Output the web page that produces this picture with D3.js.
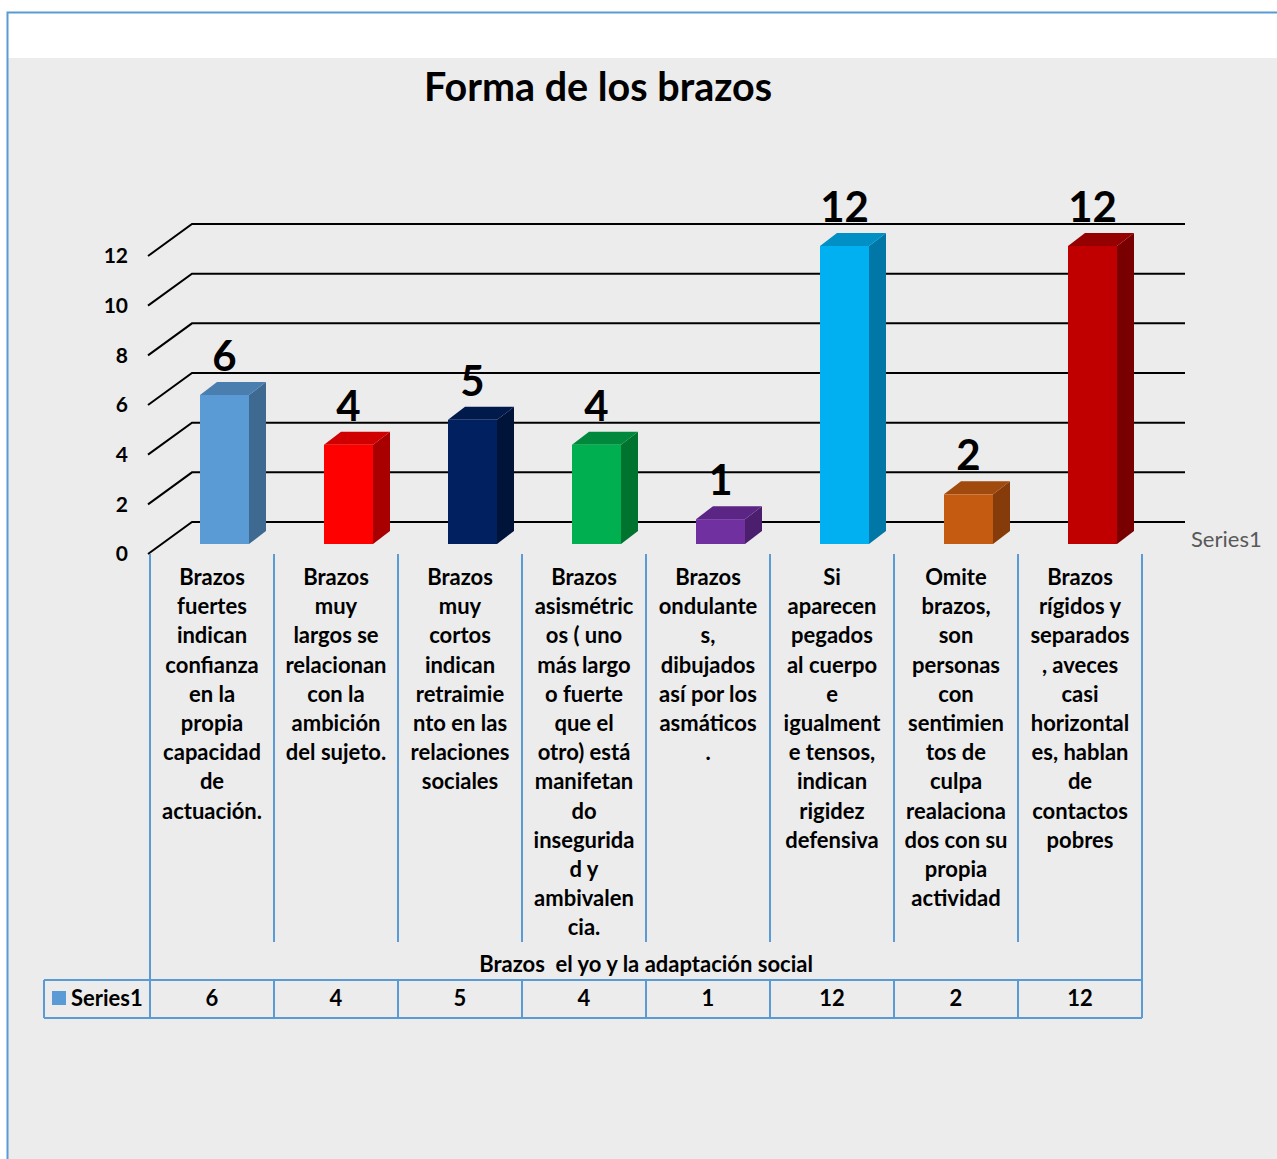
<!DOCTYPE html>
<html>
<head>
<meta charset="utf-8">
<script src="https://cdn.jsdelivr.net/npm/d3@7"></script>
<style>
  body { margin: 0; background: #fff; }
  text { font-family: Lato, "Open Sans", sans-serif; white-space: pre; }
</style>
</head>
<body>
<script>
const W = 1277, H = 1159

// chart data
const categories = ["c1", "c2", "c3", "c4", "c5", "c6", "c7", "c8"]
const values = [6, 4, 5, 4, 1, 12, 2, 12]
const categoryLines = [
  ["Brazos","fuertes","indican","confianza","en la","propia","capacidad","de","actuación."],
  ["Brazos","muy","largos se","relacionan","con la","ambición","del sujeto."],
  ["Brazos","muy","cortos","indican","retraimie","nto en las","relaciones","sociales"],
  ["Brazos","asismétric","os ( uno","más largo","o fuerte","que el","otro) está","manifetan","do","insegurida","d y","ambivalen","cia."],
  ["Brazos","ondulante","s,","dibujados","así por los","asmáticos","."],
  ["Si","aparecen","pegados","al cuerpo","e","igualment","e tensos,","indican","rigidez","defensiva"],
  ["Omite","brazos,","son","personas","con","sentimien","tos de","culpa","realaciona","dos con su","propia","actividad"],
  ["Brazos","rígidos y","separados",", aveces","casi","horizontal","es, hablan","de","contactos","pobres"]
]
const yTicks = [0, 2, 4, 6, 8, 10, 12]
const frontColors = ["#5b9bd5", "#ff0000", "#002060", "#00b050", "#7030a0", "#00b0f0", "#c55a11", "#c00000"]
const sideColors  = ["#3e6a92", "#a80000", "#001338", "#00732f", "#4b1f6d", "#0077a6", "#863c0a", "#780000"]
const topColors   = ["#4a7eae", "#d00000", "#001a4c", "#00893c", "#5a2584", "#0090c6", "#a04a0e", "#950000"]
const seriesName = "Series1"
const axisTitle = "Brazos  el yo y la adaptación social"
const chartTitle = "Forma de los brazos"

const svg = d3.select("body").append("svg")
  .attr("width", W)
  .attr("height", H)

// frame
svg.append("rect").attr("x", 0).attr("y", 0).attr("width", W).attr("height", H).attr("fill", "#fff")
svg.append("rect").attr("x", 8).attr("y", 58).attr("width", W - 8).attr("height", H - 58).attr("fill", "#ececec")
svg.append("path")
  .attr("d", `M7.5,${H} V12.5 H${W}`)
  .attr("fill", "none").attr("stroke", "#5b9bd5").attr("stroke-width", 2)

svg.append("text")
  .attr("x", 598).attr("y", 101)
  .attr("text-anchor", "middle")
  .attr("font-size", "39.5px").attr("font-weight", "bold")
  .attr("fill", "#000")
  .text(chartTitle)

// scales
const x = d3.scaleBand().domain(categories).range([150, 1142]).padding(0)
const y = d3.scaleLinear().domain([0, 12]).range([554, 256])
const depth = {dx: 44, dy: -32}
const wallRight = 1185

// gridlines: floor diagonal + back wall line
const grid = svg.append("g")
yTicks.forEach(t => {
  grid.append("path")
    .attr("d", `M148,${y(t)} L${148 + depth.dx},${y(t) + depth.dy} H${wallRight}`)
    .attr("fill", "none").attr("stroke", "#000").attr("stroke-width", 2)
})

// y tick labels
svg.append("g").selectAll("text").data(yTicks).join("text")
  .attr("x", 128).attr("y", d => y(d))
  .attr("dy", "0.35em")
  .attr("text-anchor", "end")
  .attr("font-size", "21px").attr("font-weight", "bold")
  .text(d => d)

// 3D bars
const barOff = {dx: 13.7, dy: -10}
const barW = 49, side = {dx: 17, dy: -13}
const bars = svg.append("g")
categories.forEach((c, i) => {
  const x0 = x(c) + 50
  const yb = y(0) + barOff.dy
  const yt = y(values[i]) + barOff.dy
  const g = bars.append("g")
  g.append("path")
    .attr("d", `M${x0 + barW},${yb} L${x0 + barW + side.dx},${yb + side.dy} V${yt + side.dy} L${x0 + barW},${yt} Z`)
    .attr("fill", sideColors[i])
  g.append("path")
    .attr("d", `M${x0},${yt} L${x0 + side.dx},${yt + side.dy} H${x0 + barW + side.dx} L${x0 + barW},${yt} Z`)
    .attr("fill", topColors[i])
  g.append("rect")
    .attr("x", x0).attr("y", yt)
    .attr("width", barW).attr("height", yb - yt)
    .attr("fill", frontColors[i])
  g.append("text")
    .attr("x", x0 + barW / 2).attr("y", yt + side.dy - 11)
    .attr("text-anchor", "middle")
    .attr("font-size", "42px").attr("font-weight", "bold")
    .text(values[i])
})

svg.append("text")
  .attr("x", 1191).attr("y", 547)
  .attr("font-size", "22px").attr("fill", "#595959")
  .text(seriesName)

// category labels and data table
const blue = "#5b9bd5"
const table = svg.append("g")
categories.forEach((c, i) => {
  if (i > 0) {
    table.append("line")
      .attr("x1", x(c)).attr("x2", x(c)).attr("y1", 554).attr("y2", 942)
      .attr("stroke", blue).attr("stroke-width", 2)
  }
  table.append("text")
    .attr("x", x(c) + x.bandwidth() / 2).attr("y", 585)
    .attr("text-anchor", "middle")
    .attr("font-size", "22px").attr("font-weight", "bold")
    .selectAll("tspan").data(categoryLines[i]).join("tspan")
      .attr("x", x(c) + x.bandwidth() / 2)
      .attr("dy", (d, j) => j === 0 ? 0 : 29.2)
      .text(d => d)
  table.append("line")
    .attr("x1", x(c)).attr("x2", x(c)).attr("y1", 980).attr("y2", 1018)
    .attr("stroke", blue).attr("stroke-width", 2)
  table.append("text")
    .attr("x", x(c) + x.bandwidth() / 2).attr("y", 1006)
    .attr("text-anchor", "middle")
    .attr("font-size", "22px").attr("font-weight", "bold")
    .text(values[i])
})
table.append("line").attr("x1", 150).attr("x2", 150).attr("y1", 554).attr("y2", 1018)
  .attr("stroke", blue).attr("stroke-width", 2)
table.append("line").attr("x1", 1142).attr("x2", 1142).attr("y1", 554).attr("y2", 1018)
  .attr("stroke", blue).attr("stroke-width", 2)
table.append("line").attr("x1", 44).attr("x2", 1142).attr("y1", 980).attr("y2", 980)
  .attr("stroke", blue).attr("stroke-width", 2)
table.append("line").attr("x1", 44).attr("x2", 1142).attr("y1", 1018).attr("y2", 1018)
  .attr("stroke", blue).attr("stroke-width", 2)
table.append("line").attr("x1", 44).attr("x2", 44).attr("y1", 980).attr("y2", 1018)
  .attr("stroke", blue).attr("stroke-width", 2)
table.append("rect").attr("x", 52).attr("y", 991).attr("width", 14).attr("height", 14).attr("fill", blue)
table.append("text")
  .attr("x", 71).attr("y", 1006)
  .attr("font-size", "22px").attr("font-weight", "bold")
  .text(seriesName)

svg.append("text")
  .attr("x", 646).attr("y", 972)
  .attr("text-anchor", "middle")
  .attr("font-size", "22px").attr("font-weight", "bold")
  .text(axisTitle)
</script>
</body>
</html>
